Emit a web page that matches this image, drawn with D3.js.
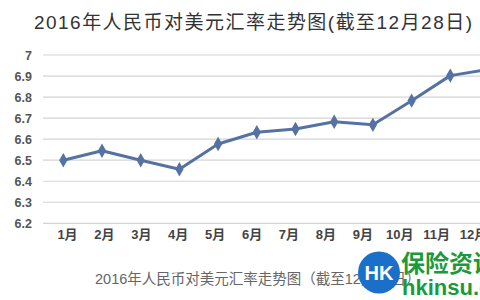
<!DOCTYPE html>
<html>
<head>
<meta charset="utf-8">
<script src="https://cdn.jsdelivr.net/npm/d3@7"></script>
<style>
  body { margin:0; background:#fff; }
  svg text { font-family: "Liberation Sans", Arial, "Noto Sans CJK SC", sans-serif; }
</style>
</head>
<body>
<div id="canvas"></div>
<script>
// data
var months = ['1月','2月','3月','4月','5月','6月','7月','8月','9月','10月','11月','12月'];
var rates = [6.50, 6.545, 6.50, 6.457, 6.577, 6.633, 6.648, 6.683, 6.668, 6.783, 6.902, 6.932];
var yTicks = [6.2, 6.3, 6.4, 6.5, 6.6, 6.7, 6.8, 6.9, 7];
var title = '2016年人民币对美元汇率走势图(截至12月28日)';
var caption = '2016年人民币对美元汇率走势图（截至12月28日）';

var W = 480, H = 300;
var svg = d3.select('#canvas').append('svg')
    .attr('width', W).attr('height', H);

var scaleY = d3.scaleLinear().domain([6.2, 7]).range([223.3, 55]);
// line points and the month labels sit on slightly different spacing in the picture
var scaleX = d3.scalePoint().domain(months).range([63.3, 489]);
var scaleLabel = d3.scalePoint().domain(months).range([67, 473]);

// title
svg.append('text')
    .attr('x', 253).attr('y', 29)
    .attr('text-anchor', 'middle')
    .attr('font-size', 19)
    .attr('fill', '#333')
    .attr('textLength', 438)
    .text(title);

// gridlines
svg.append('g').selectAll('line')
    .data(yTicks)
    .enter().append('line')
    .attr('x1', 43).attr('x2', W)
    .attr('y1', function(d){ return scaleY(d); })
    .attr('y2', function(d){ return scaleY(d); })
    .attr('stroke', '#d4d4d4')
    .attr('stroke-width', 1.2);

// y axis labels
var axisY = d3.axisLeft(scaleY).tickValues(yTicks).tickSize(0).tickPadding(0)
    .tickFormat(function(d){ return d3.format('')(+d.toFixed(1)); });
var gy = svg.append('g').attr('transform', 'translate(32,0)').call(axisY);
gy.select('.domain').remove();
gy.selectAll('text')
    .attr('font-size', 12.5).attr('font-weight', 'bold').attr('fill', '#555')
    .style('font-family', '"Liberation Sans", Arial, sans-serif');

// x axis labels
var axisX = d3.axisBottom(scaleLabel).tickSize(0).tickPadding(0);
var gx = svg.append('g').attr('transform', 'translate(0,230)').call(axisX);
gx.select('.domain').remove();
gx.selectAll('text')
    .attr('font-size', 13).attr('font-weight', 'bold').attr('fill', '#444')
    .style('font-family', '"Liberation Sans", Arial, "Noto Sans CJK SC", sans-serif');

// line
var line = d3.line()
    .x(function(d, i){ return scaleX(months[i]); })
    .y(function(d){ return scaleY(d); });

svg.append('path')
    .datum(rates)
    .attr('d', line)
    .attr('fill', 'none')
    .attr('stroke', '#5672a3')
    .attr('stroke-width', 3)
    .attr('stroke-linejoin', 'round');

svg.append('g').selectAll('path')
    .data(rates)
    .enter().append('path')
    .attr('d', d3.symbol().type(d3.symbolDiamond).size(60))
    .attr('transform', function(d, i){ return 'translate(' + scaleX(months[i]) + ',' + scaleY(d) + ')'; })
    .attr('fill', '#5672a3');

// caption under the chart
svg.append('text')
    .attr('x', 95).attr('y', 284)
    .attr('font-size', 14.5)
    .attr('fill', '#666')
    .text(caption);

// watermark
svg.append('circle')
    .attr('cx', 379).attr('cy', 272.5).attr('r', 21)
    .attr('fill', '#1a6fc8');
svg.append('text')
    .attr('x', 379).attr('y', 280)
    .attr('text-anchor', 'middle')
    .attr('font-size', 20).attr('font-weight', 'bold')
    .attr('fill', '#fff')
    .text('HK');
svg.append('text')
    .attr('x', 401).attr('y', 272)
    .attr('font-size', 24).attr('font-weight', 'bold')
    .attr('fill', '#1a9a3a')
    .style('font-family', '"Noto Sans CJK SC", sans-serif')
    .text('保险资讯');
svg.append('text')
    .attr('x', 402).attr('y', 295)
    .attr('font-size', 22).attr('font-weight', 'bold')
    .attr('fill', '#1a9a3a')
    .text('hkinsu.com');
</script>
</body>
</html>
